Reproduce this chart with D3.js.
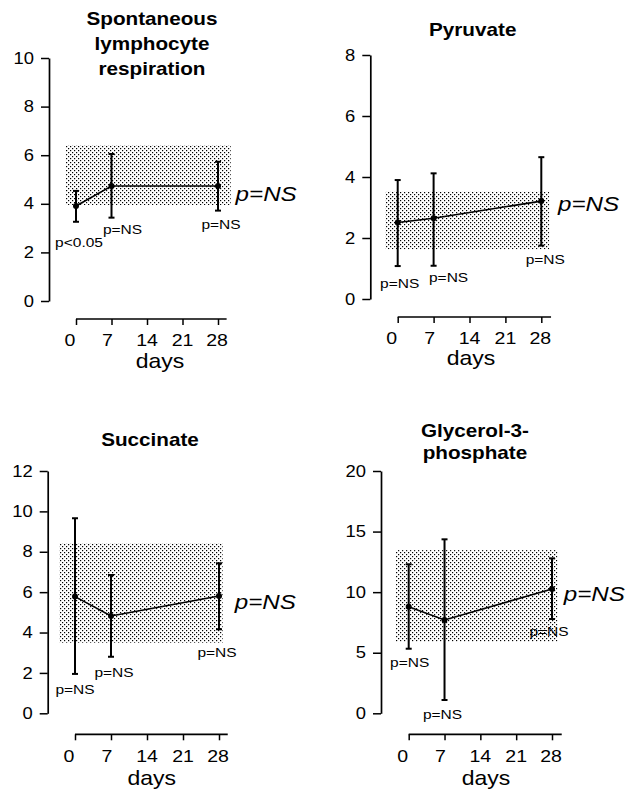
<!DOCTYPE html>
<html><head><meta charset="utf-8">
<script src="https://cdn.jsdelivr.net/npm/d3@7"></script>
<style>body{margin:0;background:#fff}svg{display:block}</style>
</head><body><svg id="c" width="632" height="799"></svg>
<script>
// ---------- data ----------
const days = [0, 7, 28];
const xTickValues = [0, 7, 14, 21, 28];
const xAxisLabel = "days";
const overallP = "p=NS";

const spontTitle = ["Spontaneous", "lymphocyte", "respiration"];
const spontMean = [3.91, 4.73, 4.73];
const spontLow  = [3.26, 3.43, 3.72];
const spontHigh = [4.53, 6.05, 5.73];
const spontBand = [3.95, 6.42];
const spontTicks = [0, 2, 4, 6, 8, 10];
const spontP = ["p<0.05", "p=NS", "p=NS"];

const pyrTitle = ["Pyruvate"];
const pyrMean = [2.51, 2.65, 3.21];
const pyrLow  = [1.08, 1.09, 1.75];
const pyrHigh = [3.90, 4.12, 4.65];
const pyrBand = [1.63, 3.52];
const pyrTicks = [0, 2, 4, 6, 8];
const pyrP = ["p=NS", "p=NS", "p=NS"];

const sucTitle = ["Succinate"];
const sucMean = [5.78, 4.82, 5.81];
const sucLow  = [1.95, 2.80, 4.16];
const sucHigh = [9.66, 6.85, 7.43];
const sucBand = [3.50, 8.42];
const sucTicks = [0, 2, 4, 6, 8, 10, 12];
const sucP = ["p=NS", "p=NS", "p=NS"];

const g3pTitle = ["Glycerol-3-", "phosphate"];
const g3pMean = [8.80, 7.70, 10.26];
const g3pLow  = [5.33, 1.10, 7.78];
const g3pHigh = [12.30, 14.36, 12.79];
const g3pBand = [5.91, 13.47];
const g3pTicks = [0, 5, 10, 15, 20];
const g3pP = ["p=NS", "p=NS", "p=NS"];

const panels = [
  {title: spontTitle, mean: spontMean, low: spontLow, high: spontHigh, band: spontBand, ticks: spontTicks, pl: spontP},
  {title: pyrTitle,   mean: pyrMean,   low: pyrLow,   high: pyrHigh,   band: pyrBand,   ticks: pyrTicks,   pl: pyrP},
  {title: sucTitle,   mean: sucMean,   low: sucLow,   high: sucHigh,   band: sucBand,   ticks: sucTicks,   pl: sucP},
  {title: g3pTitle,   mean: g3pMean,   low: g3pLow,   high: g3pHigh,   band: g3pBand,   ticks: g3pTicks,   pl: g3pP}
];

// ---------- layout ----------
const layout = [
  {ax:49,  top:58,  bottom:301,   xy:319,   x0:76,    x28:218,   endDay:29.7, bandDays:[-2.0,30.5],
   titleX:152, titleY:[25,50,75], daysX:160, daysY:368, tlY:346, pOff:[[3,20],[11,12],[3,14]], bigOff:[9,7]},
  {ax:370.3, top:55, bottom:299,  xy:317,   x0:397.7, x28:541.3, endDay:29.9, bandDays:[-2.4,29.55],
   titleX:472.7, titleY:[36], daysX:471, daysY:365, tlY:344, pOff:[[2,17],[15,11],[4,14]], bigOff:[7,2]},
  {ax:47.7, top:471, bottom:713.3, xy:734.3, x0:75,    x28:219,   endDay:29.7, bandDays:[-3.05,28.7],
   titleX:150, titleY:[446], daysX:151.7, daysY:785, tlY:762, pOff:[[0,15],[3,15],[-2,23]], bigOff:[7,6]},
  {ax:381,  top:471, bottom:713.3, xy:734.3, x0:408.7, x28:552,   endDay:29.9, bandDays:[-2.5,29.1],
   titleX:475, titleY:[437.3,459.3], daysX:486, daysY:785, tlY:762, pOff:[[1,13],[-2,14],[-3,12]], bigOff:[2,4]}
];
const xLabelShift = {0: -6, 7: -4, 14: 0, 21: 0, 28: -1};

const FONT = "'Liberation Sans', Arial, Helvetica, sans-serif";
const SX = 1.15; // horizontal stretch of the original lettering

const svg = d3.select("#c");
const defs = svg.append("defs");
const pat = defs.append("pattern").attr("id","stip").attr("patternUnits","userSpaceOnUse")
  .attr("width",4).attr("height",4);
pat.append("rect").attr("x",0).attr("y",0).attr("width",1.2).attr("height",1.2).attr("fill","#000");
pat.append("rect").attr("x",2).attr("y",2).attr("width",1.2).attr("height",1.2).attr("fill","#000");

function txt(g, x, y, s, size, opts = {}) {
  return g.append("text")
    .attr("transform", `translate(${x},${y}) scale(${SX},1)`)
    .attr("text-anchor", opts.anchor || "middle")
    .attr("font-family", FONT)
    .attr("font-size", size)
    .attr("font-weight", opts.bold ? "bold" : "normal")
    .attr("font-style", opts.italic ? "italic" : "normal")
    .attr("fill", "#000")
    .text(s);
}

panels.forEach((p, i) => {
  const L = layout[i];
  const g = svg.append("g");
  const yMax = d3.max(p.ticks);
  const y = d3.scaleLinear().domain([0, yMax]).range([L.bottom, L.top]);
  const x = d3.scaleLinear().domain([0, 28]).range([L.x0, L.x28]);

  // reference band
  g.append("rect")
    .attr("x", x(L.bandDays[0])).attr("width", x(L.bandDays[1]) - x(L.bandDays[0]))
    .attr("y", y(p.band[1])).attr("height", y(p.band[0]) - y(p.band[1]))
    .attr("fill", "url(#stip)");

  // y axis
  const yAx = g.append("g").attr("transform", `translate(${L.ax},0)`)
    .call(d3.axisLeft(y).tickValues(p.ticks).tickSizeInner(8).tickSizeOuter(0).tickFormat(d3.format("d")));
  yAx.select(".domain").attr("stroke","#000").attr("stroke-width",1.7);
  yAx.selectAll(".tick line").attr("stroke","#000").attr("stroke-width",1.5);
  yAx.selectAll(".tick text").remove();
  p.ticks.forEach(t => {
    txt(g, L.ax - 15, y(t) + 5.6, String(t), 16, {anchor: "end"});
  });

  // x axis
  const xAx = g.append("g").attr("transform", `translate(0,${L.xy})`)
    .call(d3.axisBottom(x).tickValues(xTickValues).tickSizeInner(6).tickSizeOuter(0));
  xAx.select(".domain").attr("d", `M${x(0)},0H${x(L.endDay)}`).attr("stroke","#000").attr("stroke-width",1.7);
  xAx.selectAll(".tick line").attr("stroke","#000").attr("stroke-width",1.5);
  xAx.selectAll(".tick text").remove();
  xTickValues.forEach(t => txt(g, x(t) + xLabelShift[t], L.tlY, String(t), 17));
  txt(g, L.daysX, L.daysY, xAxisLabel, 20);

  // title
  p.title.forEach((line, k) => txt(g, L.titleX, L.titleY[k], line, 18, {bold: true}));

  // error bars
  days.forEach((d, k) => {
    const cx = x(d);
    g.append("line").attr("x1",cx).attr("x2",cx).attr("y1",y(p.low[k])).attr("y2",y(p.high[k]))
      .attr("stroke","#000").attr("stroke-width",2);
    [p.low[k], p.high[k]].forEach(v => {
      g.append("line").attr("x1",cx-3).attr("x2",cx+3).attr("y1",y(v)).attr("y2",y(v))
        .attr("stroke","#000").attr("stroke-width",2);
    });
  });

  // mean line
  const line = d3.line().x((d, k) => x(days[k])).y(d => y(d));
  g.append("path").attr("d", line(p.mean)).attr("fill","none").attr("stroke","#000").attr("stroke-width",1.6);
  g.selectAll("circle.pt").data(p.mean).enter().append("circle")
    .attr("cx", (d, k) => x(days[k])).attr("cy", d => y(d)).attr("r", 3).attr("fill","#000");

  // per-point p labels
  p.pl.forEach((s, k) => {
    txt(g, x(days[k]) + L.pOff[k][0], y(p.low[k]) + L.pOff[k][1] + 4.8, s, 13.5);
  });

  // overall p
  txt(g, x(L.endDay) + L.bigOff[0], y(p.mean[2]) + L.bigOff[1] + 7.5, overallP, 21, {anchor: "start", italic: true});
});
</script>
</body></html>
